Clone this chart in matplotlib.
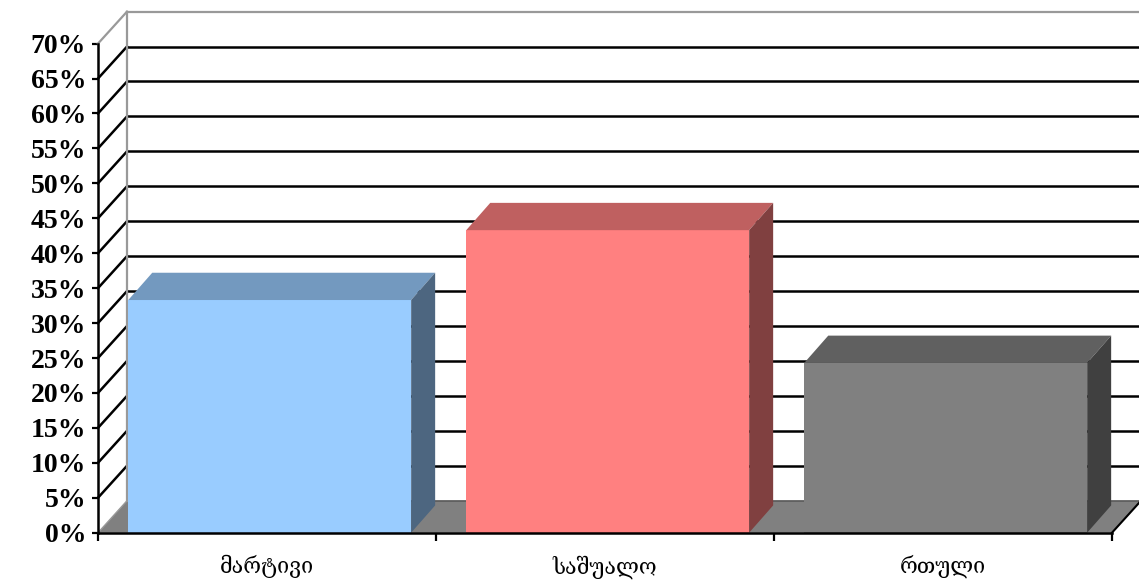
import numpy as np
import matplotlib
matplotlib.use('Agg')
import matplotlib.pyplot as plt
from matplotlib.patches import Polygon
from matplotlib.ticker import FuncFormatter

# difficulty level shares, percent
categories = ['მარტივი', 'საშუალო', 'რთული']
shares = [33.3, 43.3, 24.3]

front_colors = ['#99ccff', '#ff8080', '#808080']
top_colors = ['#7399bf', '#bf6060', '#606060']
side_colors = ['#4d6680', '#804040', '#404040']

y_ticks = np.arange(0, 75, 5)
y_max = 70

W, H = 1139, 581
fig = plt.figure(figsize=(W / 100, H / 100), dpi=100)
ax = fig.add_axes([98 / W, (H - 532.7) / H, (1112 - 98) / W, (532.7 - 43.6) / H])
ax.set_xlim(-0.5, 2.5)
ax.set_ylim(0, y_max)

# depth of the box walls and of the columns, in data units
wall_dx, wall_dy = 29 / 338, 32 / 6.99
bar_dx, bar_dy = 24 / 338, 27.3 / 6.99

x0, x1 = -0.5, 2.5
bx0, bx1 = x0 + wall_dx, x1 + wall_dx

# floor
ax.add_patch(Polygon([(x0, 0), (x1, 0), (bx1, wall_dy), (bx0, wall_dy)],
                     closed=True, facecolor='#808080', edgecolor='none',
                     clip_on=False, zorder=1))
ax.plot([bx0, bx1], [wall_dy, wall_dy], color='#5a5a5a', lw=1.2,
        clip_on=False, zorder=1.5)
ax.plot([x1, bx1], [0, wall_dy], color='black', lw=1.5,
        clip_on=False, zorder=5)

# gridlines on back wall and side wall
for v in y_ticks[1:-1]:
    ax.plot([bx0, bx1], [v + wall_dy, v + wall_dy], color='black', lw=1.8,
            clip_on=False, zorder=2)
    ax.plot([x0, bx0], [v, v + wall_dy], color='black', lw=1.8,
            clip_on=False, zorder=2)

# wall outlines
ax.plot([bx0, bx1], [y_max + wall_dy, y_max + wall_dy], color='#999999',
        lw=1.6, clip_on=False, zorder=2)
ax.plot([bx0, bx0], [wall_dy, y_max + wall_dy], color='#999999',
        lw=1.6, clip_on=False, zorder=2)
ax.plot([x0, bx0], [y_max, y_max + wall_dy], color='#999999',
        lw=1.6, clip_on=False, zorder=2)
ax.plot([x0, bx0], [0, wall_dy], color='#999999', lw=1.0,
        clip_on=False, zorder=1.6)

# columns
bar_w = 0.837
for i, (val, fc, tc, sc) in enumerate(zip(shares, front_colors, top_colors, side_colors)):
    left = i + 0.008 - bar_w / 2
    right = left + bar_w
    ax.bar(i + 0.008, val, width=bar_w, color=fc, edgecolor='none',
           zorder=3, clip_on=False)
    ax.add_patch(Polygon([(left, val), (right, val),
                          (right + bar_dx, val + bar_dy), (left + bar_dx, val + bar_dy)],
                         closed=True, facecolor=tc, edgecolor='none',
                         clip_on=False, zorder=3))
    ax.add_patch(Polygon([(right, 0), (right + bar_dx, bar_dy),
                          (right + bar_dx, val + bar_dy), (right, val)],
                         closed=True, facecolor=sc, edgecolor='none',
                         clip_on=False, zorder=3))

# axes
for s in ['top', 'right']:
    ax.spines[s].set_visible(False)
for s in ['left', 'bottom']:
    ax.spines[s].set_linewidth(1.8)
    ax.spines[s].set_zorder(6)

ax.set_yticks(y_ticks)
ax.yaxis.set_major_formatter(FuncFormatter(lambda v, p: '%d%%' % v))
ax.tick_params(axis='y', direction='out', length=4.5, width=1.6, pad=4)
for lbl in ax.get_yticklabels():
    lbl.set_fontfamily('Liberation Serif')
    lbl.set_fontweight('bold')
    lbl.set_fontsize(20)

ax.set_xticks([-0.5, 0.5, 1.5, 2.5])
ax.set_xticklabels([])
ax.tick_params(axis='x', direction='out', length=6, width=1.6)
for i, name in enumerate(categories):
    ax.text(i, -3.2, name, ha='center', va='top', fontsize=15.5,
            family=['DejaVu Serif', 'DejaVu Sans'])

fig.savefig('out.png', dpi=100)
